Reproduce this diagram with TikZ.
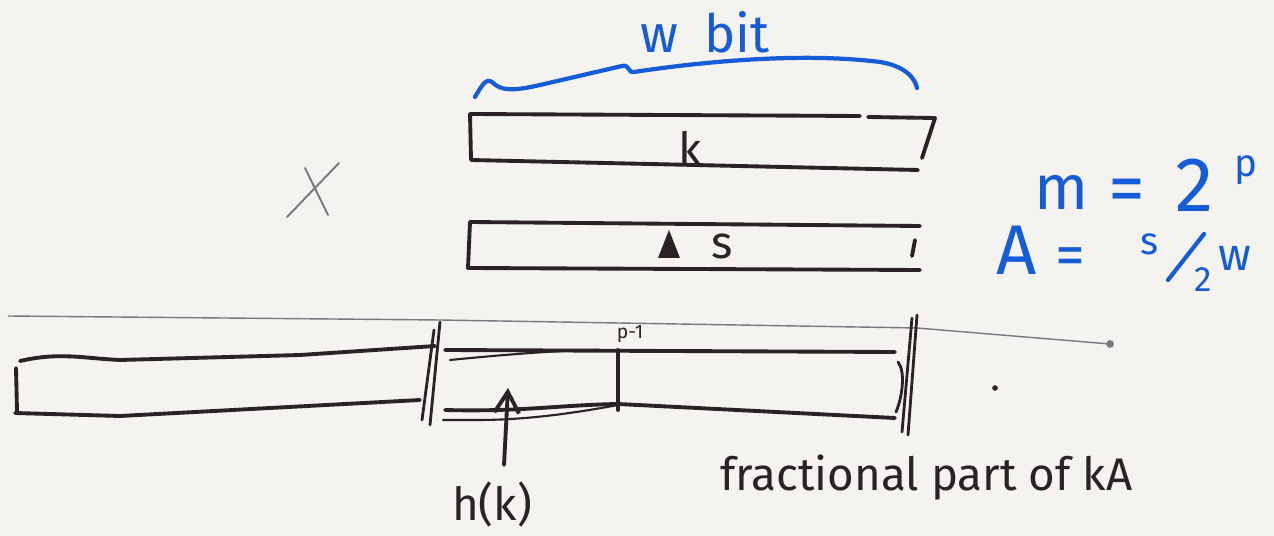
\documentclass[tikz,border=0pt]{standalone}
\usepackage{fontspec}
\setmainfont{Fira Sans}
\usetikzlibrary{arrows.meta}
\definecolor{paper}{RGB}{244,243,239}
\definecolor{ink}{RGB}{42,34,38}
\definecolor{bluepen}{RGB}{22,92,214}
\definecolor{pencil}{RGB}{120,120,128}
\tikzset{
  pen/.style={draw=ink, line width=2.2pt, line cap=round, line join=round},
  thinpen/.style={draw=ink, line width=1.2pt, line cap=round},
  blue/.style={draw=bluepen, line width=2.4pt, line cap=round, line join=round},
  lbl/.style={text=ink, inner sep=0pt, font=\fontsize{26}{28}\selectfont},
  bluelbl/.style={text=bluepen, inner sep=0pt, font=\fontsize{36}{38}\selectfont},
}
\begin{document}
\begin{tikzpicture}[x=0.02cm, y=-0.02cm]
  % paper
  \fill[paper] (0,0) rectangle (1274,536);
  \useasboundingbox (0,0) rectangle (1274,536);

  % width brace over the key register
  \draw[blue] (475,97) .. controls (482,85) and (486,78) .. (492,82)
     .. controls (500,90) and (510,92) .. (540,85)
     -- (622,66) .. controls (630,64) and (628,74) .. (634,72)
     .. controls (700,62) and (800,52) .. (880,62)
     .. controls (905,66) and (915,78) .. (917,88);
  \node[lbl, text=bluepen, font=\fontsize{30}{32}\selectfont] (wbit) at (705,32) {w\hspace{0.5em}bit};

  % key register
  \draw[pen] (470,114) -- (860,116);
  \draw[pen] (868,117) -- (935,118) -- (922,158);
  \draw[pen] (470,114) -- (471,160) -- (918,170);
  \node[lbl] (k) at (690,148) {k};

  % multiplier register
  \draw[pen] (470,222) -- (920,226);
  \draw[pen] (470,222) -- (468,268) -- (920,270);
  \draw[pen] (915,240) -- (912,256);
  \fill[ink] (658,258) -- (669,230) -- (680,258) -- cycle;
  \node[lbl] (s) at (722,246) {s};

  % multiplication mark
  \draw[draw=pencil, line width=1.1pt, line cap=round] (287,217) -- (339,163);
  \draw[draw=pencil, line width=1.1pt, line cap=round] (305,168) -- (328,215);

  % definitions
  \node[bluelbl] (mvar) at (1062,192) {m};
  \node[bluelbl, font=\fontsize{42}{44}\selectfont] (meq) at (1127,196) {=};
  \node[bluelbl, font=\fontsize{44}{46}\selectfont] (mtwo) at (1195,185) {2};
  \node[bluelbl, font=\fontsize{22}{24}\selectfont] (pexp) at (1246,170) {p};
  \node[bluelbl, font=\fontsize{40}{42}\selectfont] (avar) at (1017,250) {A};
  \node[bluelbl, font=\fontsize{34}{36}\selectfont] (aeq) at (1070,262) {=};
  \node[bluelbl, font=\fontsize{22}{24}\selectfont] (snum) at (1150,244) {s};
  \coordinate (slashlo) at (1168,280);
  \coordinate (slashhi) at (1204,234);
  \draw[blue] (slashlo) -- (slashhi);
  \node[bluelbl, font=\fontsize{20}{22}\selectfont] (twoden) at (1203,280) {2};
  \node[bluelbl, font=\fontsize{26}{28}\selectfont] (wden) at (1235,258) {w};

  % binary point baseline
  \draw[draw=pencil, line width=0.8pt] (8,316) -- (440,320) -- (917,328) -- (1110,344);
  \fill[pencil] (1110,344) circle (2.2pt);

  % product register, low half
  \draw[pen] (20,361) .. controls (60,352) and (80,358) .. (120,360) -- (300,355) -- (435,346);
  \draw[pen] (15,413) -- (120,416) -- (420,400);
  \draw[pen] (16,368) -- (17,411);

  % product register, high half
  \draw[pen] (445,350) -- (895,352);
  \draw[pen] (445,410) .. controls (520,412) and (560,405) .. (618,404) -- (895,418);
  \draw[thinpen] (450,360) .. controls (500,355) and (560,350) .. (600,350);
  \draw[thinpen] (443,420) -- (478,420) .. controls (530,420) and (580,412) .. (618,405);
  \draw[pen] (618,350) -- (618,410);

  % word boundaries
  \draw[pen, line width=1.6pt] (440,322) -- (430,425);
  \draw[pen, line width=1.6pt] (434,330) -- (422,420);
  \draw[pen, line width=1.6pt] (917,315) -- (908,435);
  \draw[pen, line width=1.6pt] (912,318) -- (902,432);
  \draw[pen, line width=1.6pt] (898,362) .. controls (906,372) and (902,398) .. (896,412);

  \node[lbl, font=\fontsize{11}{12}\selectfont] (pm1) at (630,334) {p-1};

  % hash value
  \coordinate (arrowtail) at (504,465);
  \coordinate (arrowhead) at (508,388);
  \draw[pen, -{Straight Barb[length=12pt,width=14pt]}] (arrowtail) -- (arrowhead);
  \node[lbl] (hk) at (492,505) {h(k)};

  \node[lbl, anchor=west] (frac) at (720,478) {fractional part of kA};
  \fill[ink] (995,388) circle (1.6pt);
\end{tikzpicture}
\end{document}
